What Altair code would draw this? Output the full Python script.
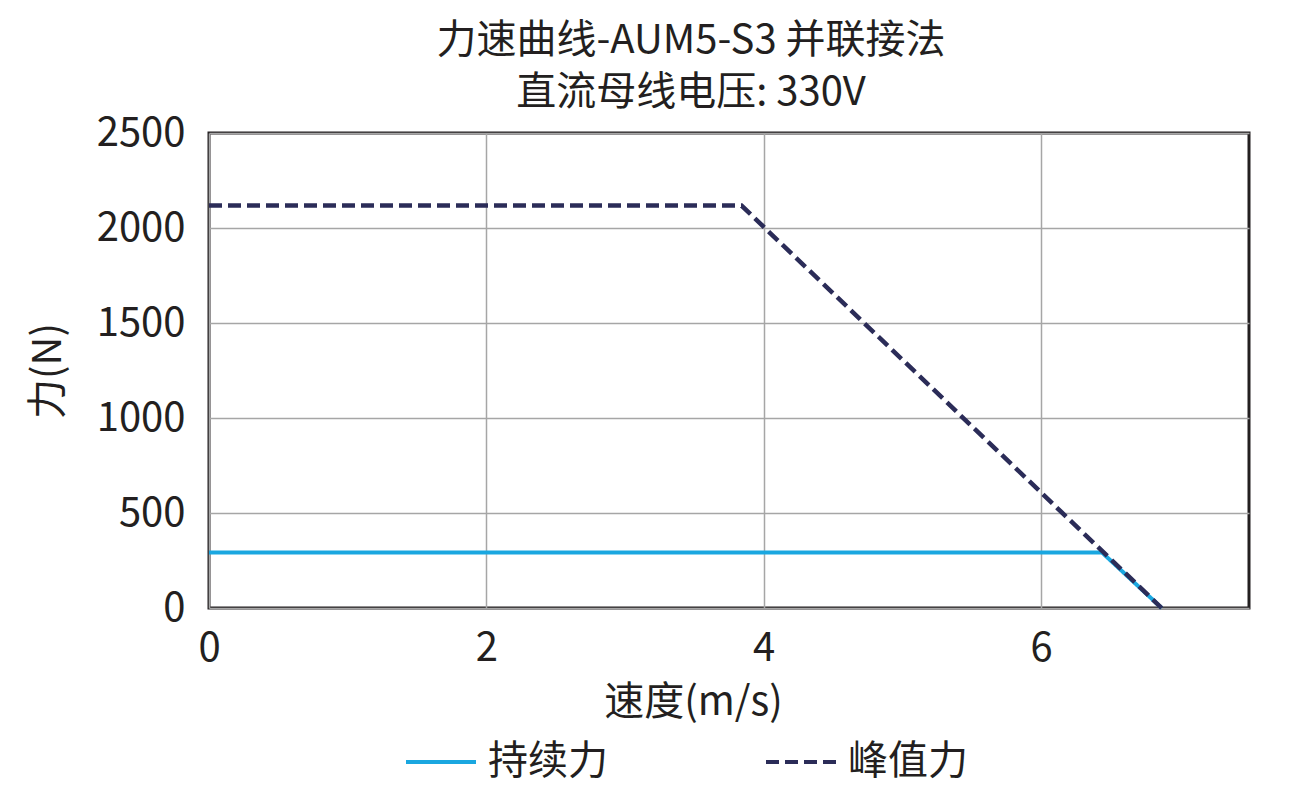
import altair as alt
import pandas as pd

FONT = "Noto Sans CJK SC"
TEXT = "#231f20"

series_names = ["持续力", "峰值力"]
cont_speed = [0.0, 6.44, 6.87]
cont_force = [292, 292, 0]
peak_speed = [0.0, 3.84, 6.87]
peak_force = [2118, 2118, 0]

rows = []
for s, f in zip(cont_speed, cont_force):
    rows.append({"series": series_names[0], "speed": s, "force": f})
for s, f in zip(peak_speed, peak_force):
    rows.append({"series": series_names[1], "speed": s, "force": f})
df = pd.DataFrame(rows)

x = alt.X("speed:Q", title="速度(m/s)",
          scale=alt.Scale(domain=[0, 7.5], nice=False, zero=False),
          axis=alt.Axis(values=[0, 2, 4, 6], format="d", labelFlush=False, titleX=484))
y = alt.Y("force:Q", title="力(N)",
          scale=alt.Scale(domain=[0, 2500], nice=False),
          axis=alt.Axis(values=[0, 500, 1000, 1500, 2000, 2500], format="d", labelFlush=False))
color = alt.Color("series:N", title=None,
                  scale=alt.Scale(domain=series_names, range=["#1aa7e0", "#2b2c58"]),
                  legend=alt.Legend(orient="none", direction="horizontal",
                                    legendX=195, legendY=475 + 117,
                                    symbolType="stroke", symbolSize=4900,
                                    symbolStrokeWidth=4, labelFontSize=40,
                                    labelFont=FONT, labelColor=TEXT,
                                    columnPadding=150, labelOffset=10,
                                    symbolOpacity=1))
dash = alt.StrokeDash("series:N", title=None,
                      scale=alt.Scale(domain=series_names, range=[[1, 0], [13, 6]]))

base = alt.Chart(df)
cont = base.transform_filter(alt.datum.series == series_names[0]).mark_line(strokeWidth=4).encode(
    x=x, y=y, color=color, strokeDash=dash)
peak = base.transform_filter(alt.datum.series == series_names[1]).mark_line(strokeWidth=4.5).encode(
    x=x, y=y, color=color, strokeDash=dash)

chart = alt.layer(cont, peak).properties(
    width=1040, height=475,
    title=alt.TitleParams(["力速曲线-AUM5-S3 并联接法", "直流母线电压: 330V"],
                          fontSize=40, font=FONT, fontWeight="normal", color=TEXT,
                          lineHeight=52, offset=0, anchor="middle", dx=-38),
    padding={"left": 20, "top": 13, "right": 10, "bottom": 10},
).configure_view(stroke=TEXT, strokeWidth=3).configure_axis(
    labelFont=FONT, labelFontSize=40, labelColor=TEXT,
    titleFont=FONT, titleFontSize=40, titleColor=TEXT, titleFontWeight="normal",
    domain=False, ticks=False, gridColor="#a6a6a6", gridWidth=1.5, gridOpacity=1,
).configure_axisX(labelPadding=20, titlePadding=14).configure_axisY(labelPadding=24, titlePadding=28)

chart.save("out.html", embed_options={"renderer": "svg", "actions": False})
